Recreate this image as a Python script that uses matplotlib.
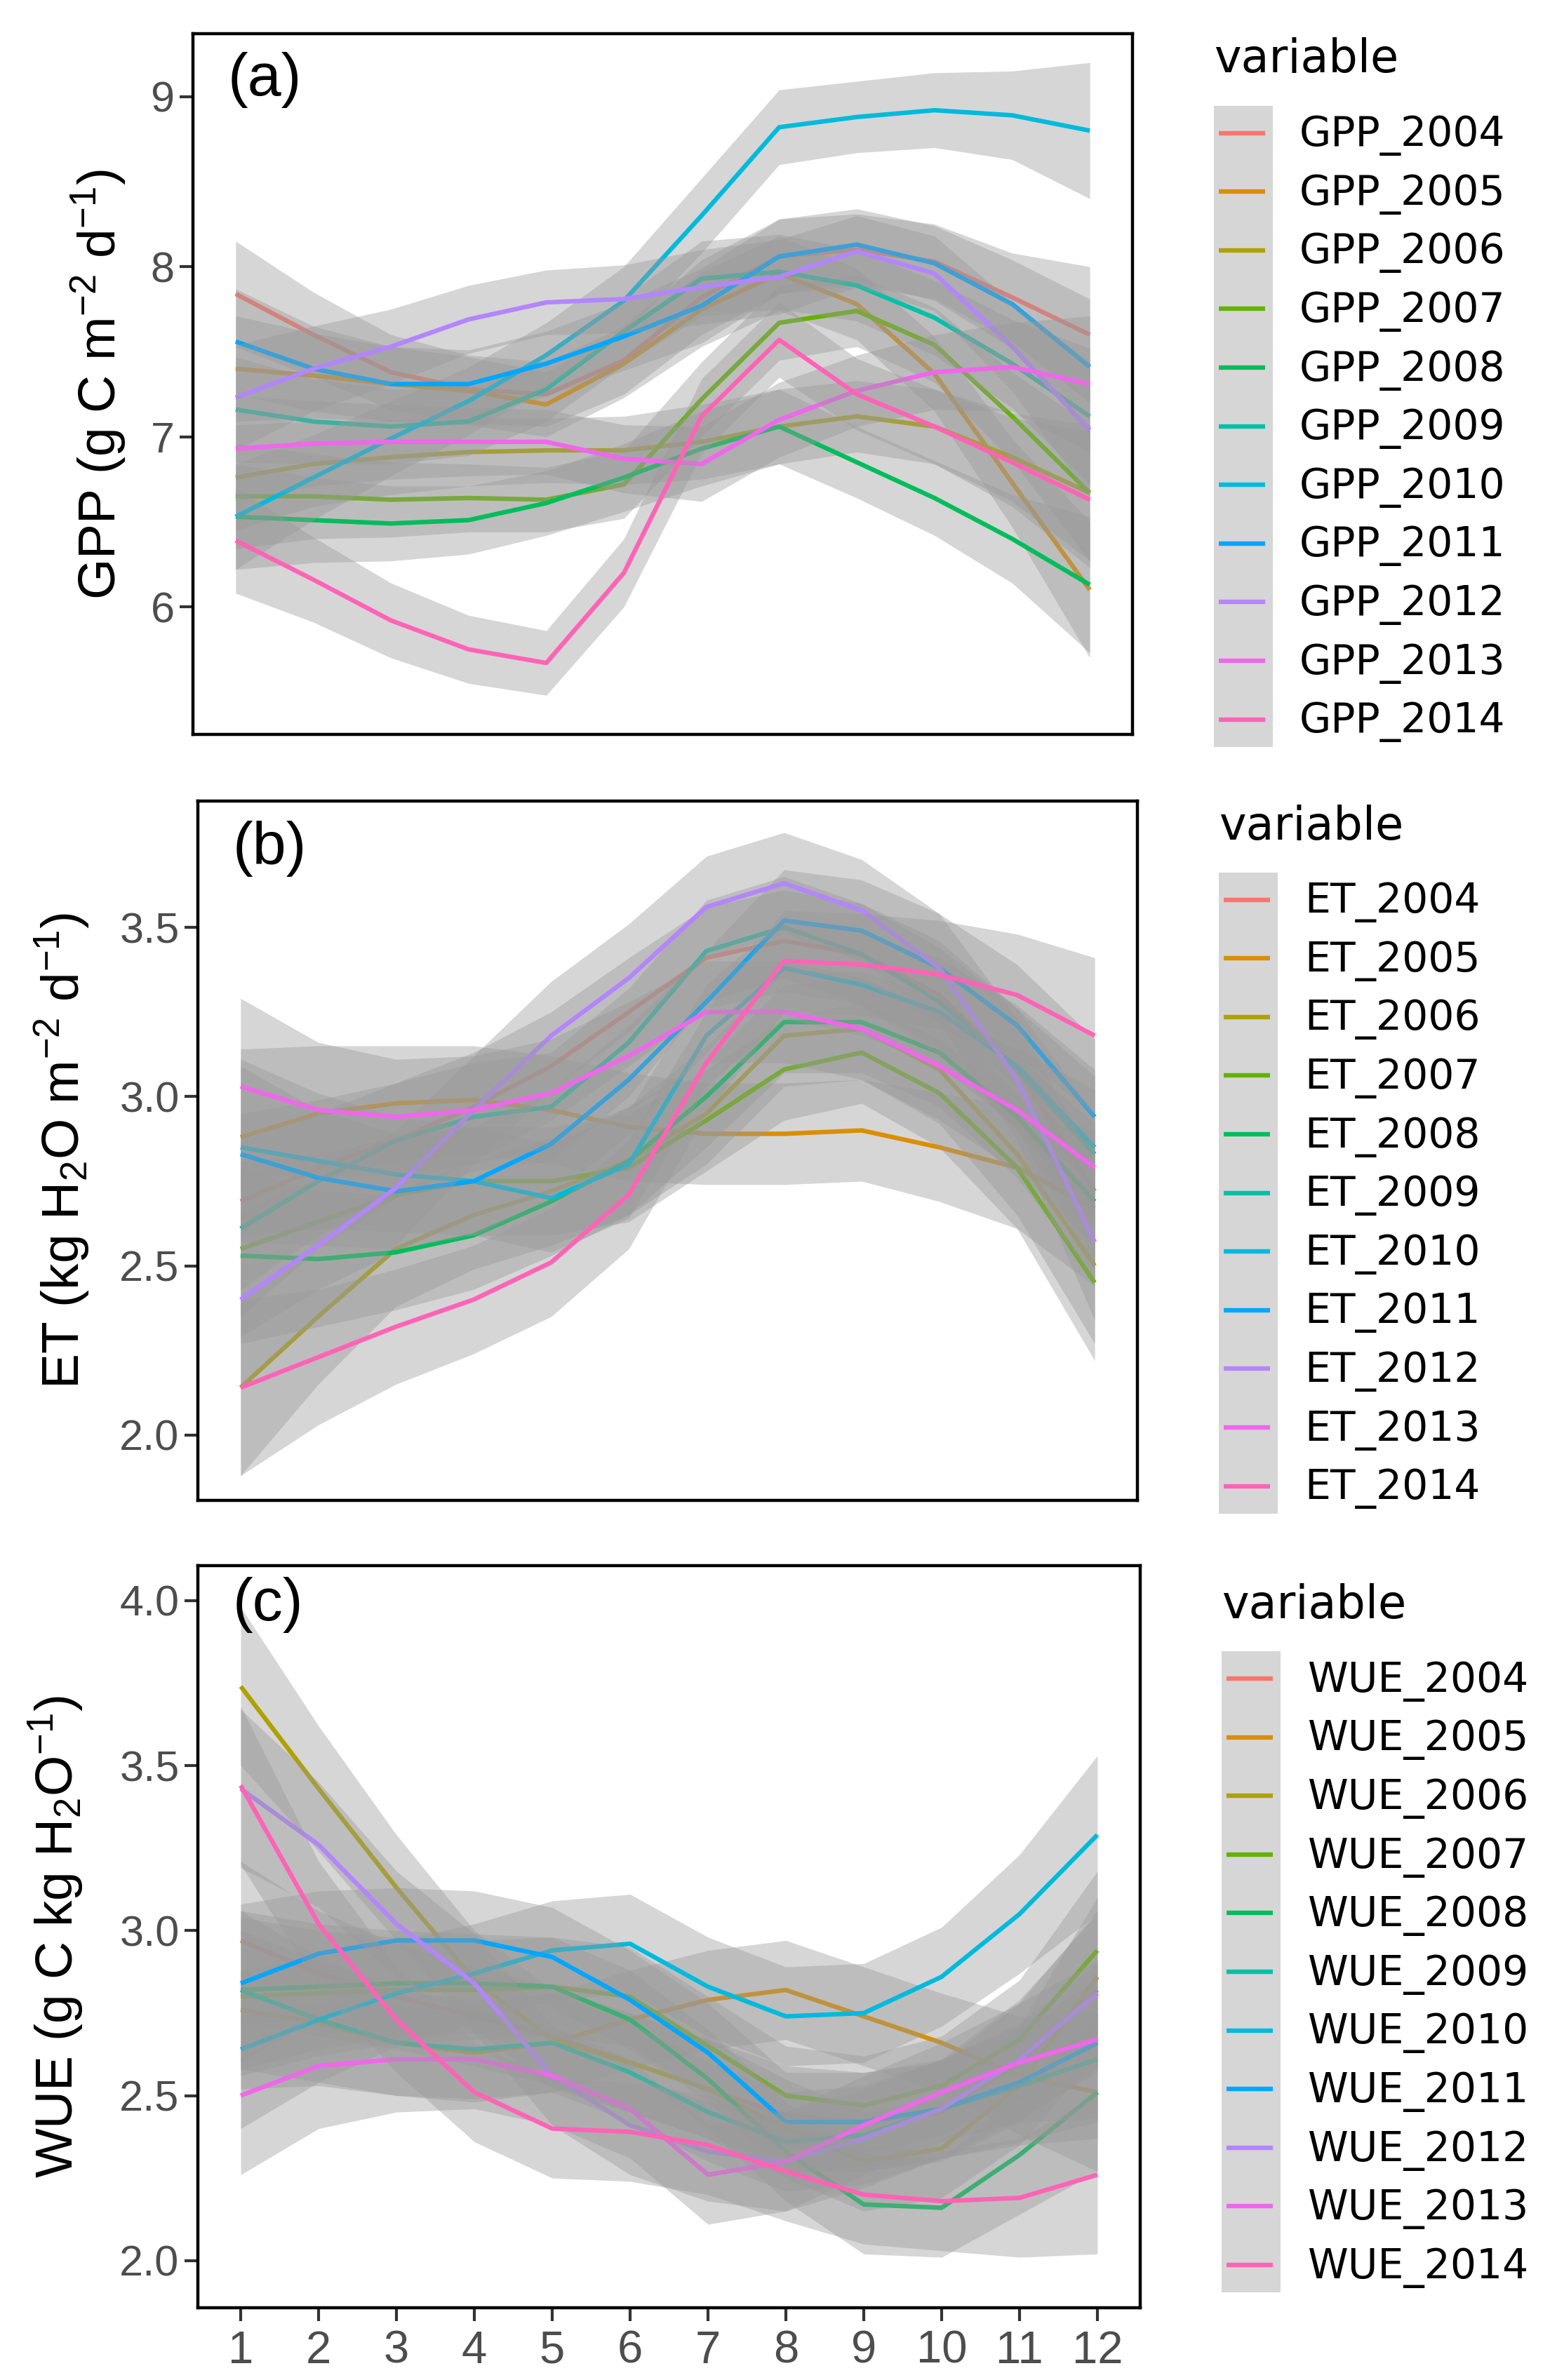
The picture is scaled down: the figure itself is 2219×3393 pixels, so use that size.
import matplotlib
matplotlib.use("Agg")
import matplotlib.pyplot as plt
from matplotlib.patches import Rectangle
import numpy as np

plt.rcParams["font.family"] = ["Liberation Sans", "DejaVu Sans"]
plt.rcParams["mathtext.fontset"] = "custom"
plt.rcParams["mathtext.rm"] = "Liberation Sans"
plt.rcParams["mathtext.it"] = "Liberation Sans:italic"
plt.rcParams["mathtext.bf"] = "Liberation Sans:bold"

# ------------------------------------------------------------------ data
months = list(range(1, 13))
years = [2004, 2005, 2006, 2007, 2008, 2009, 2010, 2011, 2012, 2013, 2014]
# ggplot2 default hue palette for 11 groups
colors = ["#F8766D", "#DB8E00", "#AEA200", "#64B200", "#00BD5C", "#00C1A7",
          "#00BADE", "#00A6FF", "#B385FF", "#EF67EB", "#FF63B6"]

gpp_2004 = [7.84, 7.60, 7.38, 7.28, 7.25, 7.45, 7.82, 8.06, 8.10, 8.03, 7.82, 7.60]
gpp_2005 = [7.40, 7.36, 7.31, 7.27, 7.19, 7.43, 7.75, 7.96, 7.78, 7.37, 6.73, 6.10]
gpp_2006 = [6.76, 6.84, 6.88, 6.91, 6.92, 6.92, 6.97, 7.06, 7.12, 7.06, 6.88, 6.67]
gpp_2007 = [6.65, 6.65, 6.63, 6.64, 6.63, 6.72, 7.22, 7.67, 7.74, 7.54, 7.12, 6.67]
gpp_2008 = [6.53, 6.51, 6.49, 6.51, 6.61, 6.76, 6.93, 7.06, 6.85, 6.64, 6.40, 6.13]
gpp_2009 = [7.16, 7.09, 7.06, 7.09, 7.28, 7.62, 7.93, 7.97, 7.89, 7.70, 7.43, 7.12]
gpp_2010 = [6.53, 6.76, 6.99, 7.21, 7.48, 7.80, 8.30, 8.82, 8.88, 8.92, 8.89, 8.80]
gpp_2011 = [7.56, 7.40, 7.31, 7.31, 7.43, 7.59, 7.77, 8.06, 8.13, 8.02, 7.78, 7.41]
gpp_2012 = [7.23, 7.40, 7.53, 7.69, 7.79, 7.81, 7.88, 7.94, 8.09, 7.96, 7.53, 7.04]
gpp_2013 = [6.93, 6.96, 6.97, 6.97, 6.97, 6.87, 6.84, 7.10, 7.27, 7.38, 7.41, 7.31]
gpp_2014 = [6.39, 6.16, 5.92, 5.75, 5.67, 6.20, 7.12, 7.57, 7.25, 7.06, 6.85, 6.63]
gpp_se = [0.31, 0.25, 0.22, 0.20, 0.19, 0.20, 0.22, 0.22, 0.21, 0.22, 0.26, 0.40]

et_2004 = [2.69, 2.79, 2.87, 2.97, 3.09, 3.25, 3.41, 3.46, 3.42, 3.30, 3.08, 2.72]
et_2005 = [2.88, 2.95, 2.98, 2.99, 2.96, 2.91, 2.89, 2.89, 2.90, 2.85, 2.79, 2.67]
et_2006 = [2.14, 2.35, 2.55, 2.65, 2.72, 2.81, 2.95, 3.18, 3.20, 3.08, 2.83, 2.50]
et_2007 = [2.55, 2.63, 2.71, 2.75, 2.75, 2.79, 2.93, 3.08, 3.13, 3.01, 2.79, 2.45]
et_2008 = [2.53, 2.52, 2.54, 2.59, 2.69, 2.81, 3.00, 3.22, 3.22, 3.13, 2.94, 2.69]
et_2009 = [2.61, 2.75, 2.87, 2.94, 2.97, 3.16, 3.43, 3.50, 3.42, 3.28, 3.08, 2.83]
et_2010 = [2.85, 2.81, 2.77, 2.75, 2.70, 2.80, 3.18, 3.38, 3.33, 3.25, 3.09, 2.85]
et_2011 = [2.83, 2.76, 2.72, 2.75, 2.86, 3.05, 3.28, 3.52, 3.49, 3.38, 3.21, 2.94]
et_2012 = [2.40, 2.56, 2.73, 2.96, 3.18, 3.35, 3.56, 3.63, 3.55, 3.38, 3.05, 2.57]
et_2013 = [3.03, 2.96, 2.94, 2.96, 3.01, 3.12, 3.25, 3.25, 3.20, 3.09, 2.96, 2.79]
et_2014 = [2.14, 2.23, 2.32, 2.40, 2.51, 2.71, 3.10, 3.40, 3.39, 3.36, 3.30, 3.18]
et_se = [0.26, 0.20, 0.17, 0.16, 0.16, 0.16, 0.15, 0.15, 0.15, 0.16, 0.18, 0.23]

wue_2004 = [2.97, 2.87, 2.80, 2.74, 2.68, 2.60, 2.52, 2.44, 2.42, 2.45, 2.60, 2.82]
wue_2005 = [2.76, 2.72, 2.66, 2.63, 2.66, 2.73, 2.79, 2.82, 2.74, 2.66, 2.56, 2.51]
wue_2006 = [3.74, 3.43, 3.13, 2.85, 2.67, 2.60, 2.52, 2.40, 2.30, 2.34, 2.53, 2.86]
wue_2007 = [2.80, 2.81, 2.82, 2.82, 2.83, 2.80, 2.65, 2.50, 2.47, 2.53, 2.67, 2.94]
wue_2008 = [2.82, 2.83, 2.84, 2.84, 2.83, 2.73, 2.55, 2.33, 2.17, 2.16, 2.32, 2.51]
wue_2009 = [2.82, 2.73, 2.66, 2.64, 2.66, 2.57, 2.45, 2.36, 2.38, 2.46, 2.53, 2.61]
wue_2010 = [2.64, 2.73, 2.81, 2.87, 2.94, 2.96, 2.83, 2.74, 2.75, 2.86, 3.05, 3.29]
wue_2011 = [2.84, 2.93, 2.97, 2.97, 2.92, 2.79, 2.63, 2.42, 2.42, 2.46, 2.54, 2.66]
wue_2012 = [3.43, 3.26, 3.02, 2.84, 2.56, 2.41, 2.33, 2.30, 2.37, 2.46, 2.61, 2.81]
wue_2013 = [2.50, 2.59, 2.61, 2.61, 2.56, 2.46, 2.26, 2.30, 2.41, 2.51, 2.60, 2.67]
wue_2014 = [3.44, 3.02, 2.73, 2.51, 2.40, 2.39, 2.35, 2.27, 2.20, 2.18, 2.19, 2.26]
wue_se = [0.24, 0.19, 0.16, 0.15, 0.15, 0.15, 0.15, 0.15, 0.15, 0.15, 0.18, 0.24]

gpp = [gpp_2004, gpp_2005, gpp_2006, gpp_2007, gpp_2008, gpp_2009,
       gpp_2010, gpp_2011, gpp_2012, gpp_2013, gpp_2014]
et = [et_2004, et_2005, et_2006, et_2007, et_2008, et_2009,
      et_2010, et_2011, et_2012, et_2013, et_2014]
wue = [wue_2004, wue_2005, wue_2006, wue_2007, wue_2008, wue_2009,
       wue_2010, wue_2011, wue_2012, wue_2013, wue_2014]

# ---------------------------------------------------------------- layout
W, H = 2219, 3393
fig = plt.figure(figsize=(W / 100, H / 100), dpi=100)
fig.patch.set_facecolor("white")

# panel boxes in pixels: left, right, top, bottom
BOXES = [(275, 1614, 48, 1047), (282, 1621, 1142, 2139), (282, 1625, 2232, 3290)]
LW = 4.6


def px_axes(box):
    l, r, t, b = box
    return fig.add_axes([l / W, 1 - b / H, (r - l) / W, (b - t) / H])


over = fig.add_axes([0, 0, 1, 1], zorder=5)
over.set_xlim(0, W)
over.set_ylim(H, 0)
over.axis("off")

PANELS = [
    dict(data=gpp, se=gpp_se, prefix="GPP", ylim=(5.25, 9.37),
         yticks=[6, 7, 8, 9], ylab=r"GPP (g C m$^{-2}$ d$^{-1}$)",
         ylab_x=141, tag="(a)", tag_dy=66, leg_dy=8),
    dict(data=et, se=et_se, prefix="ET", ylim=(1.807, 3.873),
         yticks=[2.0, 2.5, 3.0, 3.5], ylab=r"ET (kg H$_2$O m$^{-2}$ d$^{-1}$)",
         ylab_x=89, tag="(b)", tag_dy=68, leg_dy=8),
    dict(data=wue, se=wue_se, prefix="WUE", ylim=(1.857, 4.106),
         yticks=[2.0, 2.5, 3.0, 3.5, 4.0], ylab=r"WUE (g C kg H$_2$O$^{-1}$)",
         ylab_x=80, tag="(c)", tag_dy=56, leg_dy=-2),
]

for i, (box, p) in enumerate(zip(BOXES, PANELS)):
    ax = px_axes(box)
    se = np.array(p["se"])
    for k, (vals, c) in enumerate(zip(p["data"], colors)):
        v = np.array(vals)
        ax.fill_between(months, v - se, v + se, color="#999999", alpha=0.4,
                        lw=0, zorder=2 + 2 * k)
        ax.plot(months, v, color=c, lw=LW, zorder=3 + 2 * k,
                solid_capstyle="butt", solid_joinstyle="round")
    ax.set_xlim(0.45, 12.55)
    ax.set_ylim(*p["ylim"])
    ax.set_yticks(p["yticks"])
    if p["prefix"] == "GPP":
        ax.set_yticklabels([f"{t:g}" for t in p["yticks"]])
    else:
        ax.set_yticklabels([f"{t:.1f}" for t in p["yticks"]])
    ax.tick_params(axis="y", length=14, width=3, color="#333333",
                   labelsize=44, labelcolor="#4d4d4d", pad=5)
    if i == 2:
        ax.set_xticks(months)
        ax.set_xticklabels([str(m) for m in months],
                           family=["Liberation Sans Narrow", "Liberation Sans"])
        ax.tick_params(axis="x", length=14, width=3, color="#333333",
                       labelsize=47, labelcolor="#4d4d4d", pad=9)
    else:
        ax.set_xticks([])
    for s in ax.spines.values():
        s.set_linewidth(3.2)
        s.set_color("black")

    l, r, t, b = box
    mid = (t + b) / 2
    over.text(p["ylab_x"], mid, p["ylab"], rotation=90, ha="center",
              va="center", fontsize=54, color="black")
    over.text(l + 50, t + p["tag_dy"], p["tag"], ha="left", va="center",
              fontsize=62, color="black")

    # legend, centred on the panel like ggplot does
    x0 = r + 116
    first = mid - 366 + p["leg_dy"]
    step = 83.6
    n = len(years)
    over.add_patch(Rectangle((x0, first - 39), 84, step * (n - 1) + 78,
                             fc="#d6d6d6", ec="none"))
    over.text(x0, mid - 470 + p["leg_dy"], "variable", ha="left", va="center",
              fontsize=47, family="DejaVu Sans", color="black")
    for k, (yr, c) in enumerate(zip(years, colors)):
        y = first + k * step
        over.plot([x0 + 7, x0 + 73], [y, y], color=c, lw=LW,
                  solid_capstyle="butt")
        over.text(x0 + 122, y + 4, f"{p['prefix']}_{yr}", ha="left",
                  va="center", fontsize=42, family="DejaVu Sans",
                  color="black")

fig.savefig("out.png", dpi=100, facecolor="white")
